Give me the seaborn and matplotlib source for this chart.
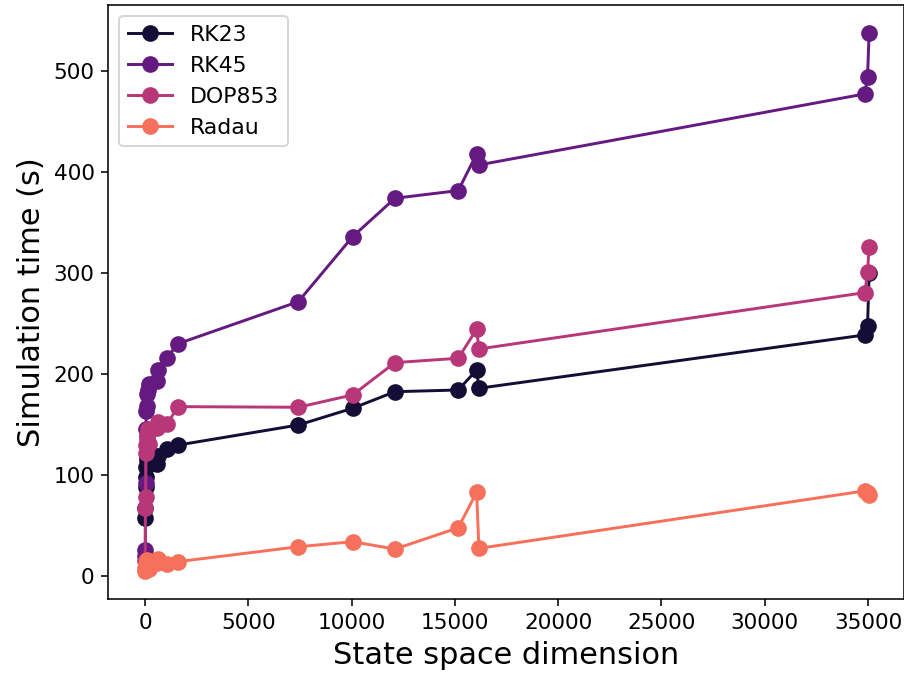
import numpy as np
import pandas as pd
import seaborn as sns
import matplotlib
matplotlib.use("Agg")
import matplotlib.pyplot as plt

# state space dimension of each model (shared by all solvers)
dims = [8, 18, 30, 48, 64, 90, 120, 160, 200, 566, 644, 1050, 1611,
        7419, 10051, 12098, 15162, 16052, 16164, 34843, 34973, 35051]

solvers = ["RK23", "RK45", "DOP853", "Radau"]

rk23 = [57, 67, 88, 98, 108, 115, 118, 122, 124, 111, 119, 125, 129.4,
        149.2, 165.8, 182.2, 183.9, 203.7, 185.6, 238.4, 247.3, 299.5]
rk45 = [20, 25, 92, 145, 163, 168, 180, 184, 190, 193, 204, 216, 229.8,
        271.3, 335.7, 373.7, 381.3, 417.6, 406.7, 477.0, 494.2, 537.7]
dop853 = [15, 67, 78, 122, 129, 136, 139, 145, 130, 146, 152, 150, 167.4,
          166.8, 179, 211, 215.3, 244, 224.5, 280.3, 301, 325.8]
radau = [5, 8, 10, 12, 9, 14, 16, 11, 7, 13, 17, 12, 14,
         28.7, 33.7, 26.4, 47.5, 82.6, 27.1, 84, 82, 80]


def plot_simulation_time():
    times = {"RK23": rk23, "RK45": rk45, "DOP853": dop853, "Radau": radau}
    dfs = []
    for s in solvers:
        df = pd.DataFrame({"dim": dims, "time": times[s]})
        df["solver"] = s
        dfs.append(df)
    dfs = pd.concat(dfs)

    colors = [plt.cm.magma(v) for v in [0.1, 0.3, 0.5, 0.7]]

    fig = plt.figure(figsize=(6.4, 4.78), dpi=141.25)
    ax = fig.add_axes([0.12, 0.112, 0.88, 0.8806])
    sns.lineplot(data=dfs, x="dim", y="time", hue="solver", hue_order=solvers,
                 estimator=None, sort=True, marker="o", markersize=8.5,
                 markeredgewidth=0, linewidth=1.5, palette=colors, ax=ax)
    ax.set_xlim(-1767, 36738)
    ax.set_ylim(-23.4, 565.2)
    ax.tick_params(labelsize=11)
    ax.set_xlabel("State space dimension", fontsize=15.5)
    ax.set_ylabel("Simulation time (s)", fontsize=15.5)
    sns.move_legend(ax, "upper left", title=None, fontsize=11.2)
    fig.savefig("out.png", dpi=141.25)


if __name__ == '__main__':
    plot_simulation_time()
